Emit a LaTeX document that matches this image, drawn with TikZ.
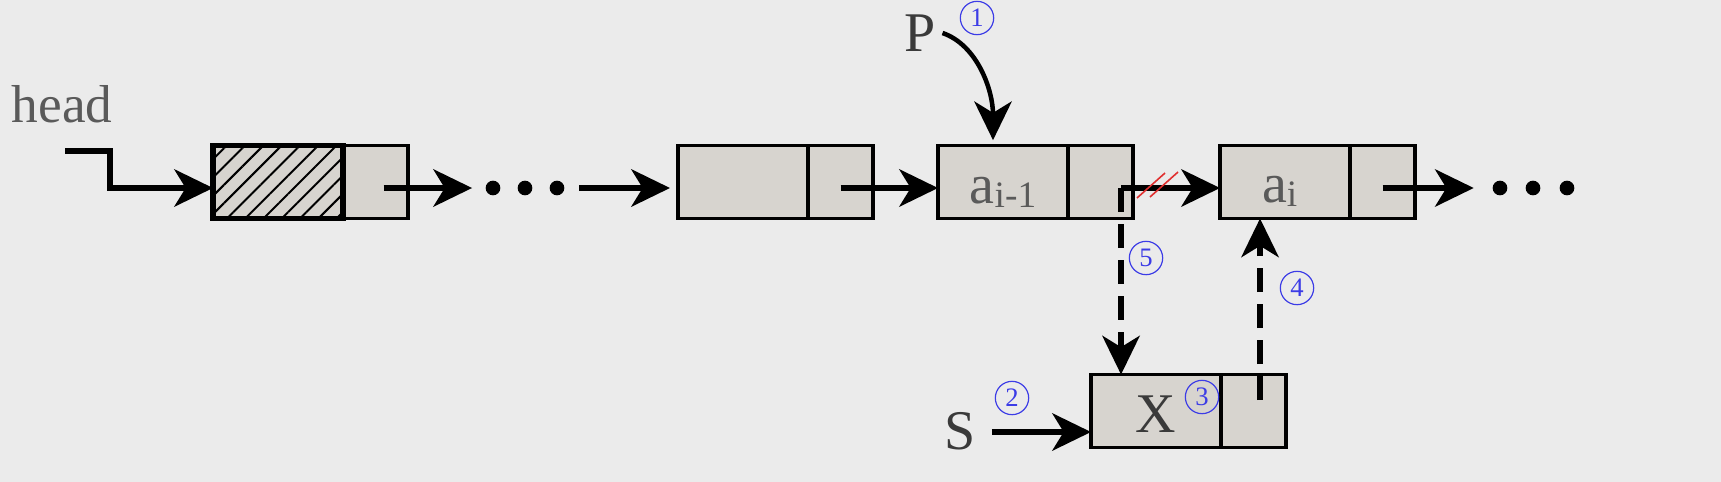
\documentclass[tikz,border=0pt]{standalone}
\usepackage{fontspec}
\setmainfont{Liberation Serif}
\usetikzlibrary{arrows.meta,patterns.meta}
\definecolor{bg}{HTML}{EBEBEB}
\definecolor{boxfill}{HTML}{D7D4CF}
\definecolor{txt}{HTML}{3A3A3A}
\definecolor{txtl}{HTML}{5A5A5A}
\definecolor{circ}{HTML}{3C3CE6}
\definecolor{hatchred}{HTML}{E03030}
\begin{document}
\begin{tikzpicture}[x=0.75pt,y=-0.75pt,
  field/.style={draw=black, line width=2.4pt, fill=boxfill, inner sep=0pt, outer sep=0pt, minimum height=54.75pt},
  datafield/.style={field, minimum width=97.5pt, anchor=west},
  nextfield/.style={field, minimum width=48.75pt, anchor=west},
  arr/.style={line width=3.9pt, -{Stealth[length=29pt,width=28pt,inset=8.5pt]}},
  darr/.style={arr, dash pattern=on 18pt off 9pt},
  dot/.style={circle, fill=black, inner sep=0pt, minimum size=11pt},
  lbl/.style={text=txt, font=\fontsize{42}{42}\selectfont, inner sep=0pt},
  inlbl/.style={text=txtl, font=\fontsize{42}{42}\selectfont, inner sep=0pt, anchor=base},
  num/.style={circle, draw=circ, line width=0.9pt, text=circ, minimum size=25pt, inner sep=0pt, font=\fontsize{20}{20}\selectfont}
]
\useasboundingbox (0,0) rectangle (1721,482);
\fill[bg] (0,0) rectangle (1721,482);

% boxes
\node[datafield] (b1d) at (213,182) {};
\node[nextfield] (b1n) at (b1d.east) {};
\fill[pattern={Lines[angle=45,distance=9.7pt,line width=1.5pt]}] (b1d.south west) rectangle (b1d.north east);
\draw[line width=3.8pt] (b1d.south west) rectangle (b1d.north east);

\node[datafield] (b2d) at (678,182) {};
\node[nextfield] (b2n) at (b2d.east) {};

\node[datafield] (b3d) at (938,182) {};
\node[nextfield] (b3n) at (b3d.east) {};

\node[datafield] (b4d) at (1220,182) {};
\node[nextfield] (b4n) at (b4d.east) {};

\node[datafield] (bXd) at (1091,411) {};
\node[nextfield] (bXn) at (bXd.east) {};

% texts in boxes
\node[inlbl] (la3) at ([yshift=-15.75pt]b3d.center) {a\raisebox{-3pt}{\fontsize{28}{28}\selectfont i-1}};
\node[inlbl] (la4) at ([xshift=-4pt,yshift=-15pt]b4d.center) {a\raisebox{-3pt}{\fontsize{28}{28}\selectfont i}};
\node[inlbl, text=txt] (lX) at ([yshift=-16pt]bXd.center) {X};

% outside labels
\node[lbl, text=txtl, font=\fontsize{40}{40}\selectfont] (head) at (62,104) {head};
\node[lbl] (P) at (920,33) {P};
\node[lbl] (S) at (960,431) {S};

% dots
\node[dot] (d1) at (493,188) {};
\node[dot] (d2) at (525,188) {};
\node[dot] (d3) at (557,188) {};
\node[dot] (d4) at (1500,188) {};
\node[dot] (d5) at (1533,188) {};
\node[dot] (d6) at (1567,188) {};

% connectors
\coordinate (hs) at (65,151);
\draw[arr] (hs) -- ++(45,0) |- ([yshift=-4.5pt]b1d.west);
\draw[arr, shorten >=10pt] ([xshift=6pt,yshift=-4.5pt]b1n.center) -- (d1);
\draw[arr, shorten <=11pt, shorten >=6pt] (d3) -- ([yshift=-4.5pt]b2d.west);
\draw[arr] ([yshift=-4.5pt]b2n.center) -- ([yshift=-4.5pt]b3d.west);
\coordinate (c5) at ([xshift=15.4pt,yshift=-4.5pt]b3n.center);
\draw[arr] (c5) -- (c5 -| b4d.west);
\draw[arr, shorten >=14pt] ([yshift=-4.5pt]b4n.center) -- (d4);
\draw[darr] (c5) -- (c5 |- bXd.north);
\coordinate (c4) at ([xshift=4.9pt,yshift=8.25pt]bXn.center);
\draw[darr] (c4) -- (c4 |- b4d.south);
\coordinate (cs) at ([xshift=12pt,yshift=-0.75pt]S.east);
\draw[arr] (cs) -- (cs -| bXd.west);
\draw[arr, line width=3.4pt, shorten >=4pt] ([xshift=5pt]P.east) .. controls +(35,12) and +(0,-55) .. ([xshift=-7.5pt]b3d.north);

% broken link marks
\draw[hatchred, line width=1.2pt] (1137,198) -- (1165,173);
\draw[hatchred, line width=1.2pt] (1150,197) -- (1178,172);

% step numbers
\node[num] (n1) at (977,18) {1};
\node[num] (n2) at (1012,398) {2};
\node[num] (n3) at (1202,397) {3};
\node[num] (n4) at (1297,288) {4};
\node[num] (n5) at (1146,258) {5};
\end{tikzpicture}
\end{document}
